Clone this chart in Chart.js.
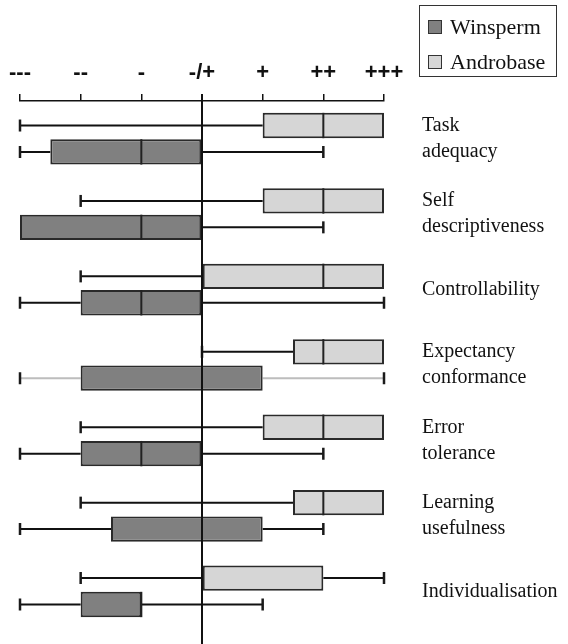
<!DOCTYPE html>
<html>
<head>
<meta charset="utf-8">
<script src="https://cdn.jsdelivr.net/npm/chart.js@4.4.0/dist/chart.umd.min.js"></script>
<style>
  body { margin: 0; background: #fff; }
  #wrap { position: relative; width: 568px; height: 644px; }
  #legend { position: absolute; left: 419px; top: 5px; width: 136px; height: 70px;
            border: 1px solid #333; font: 22px "Liberation Serif", serif; color: #111; }
  #legend div { position: absolute; left: 8px; display: flex; align-items: center; height: 26px; }
  #legend span { display: inline-block; width: 12px; height: 12px; border: 1px solid #333; margin-right: 8px; }
</style>
</head>
<body>
<div id="wrap">
  <canvas id="chart"></canvas>
  <div id="legend"></div>
</div>
<script>
const categories = [['Task', 'adequacy'], ['Self', 'descriptiveness'], ['Controllability'],
  ['Expectancy', 'conformance'], ['Error', 'tolerance'], ['Learning', 'usefulness'], ['Individualisation']];
const tickLabels = ['---', '--', '-', '-/+', '+', '++', '+++'];

// [min, q1, median, q3, max] per category
const androbase = [
  [-3, 1, 2, 3, 3],
  [-2, 1, 2, 3, 3],
  [-2, 0, 2, 3, 3],
  [0, 1.5, 2, 3, 3],
  [-2, 1, 2, 3, 3],
  [-2, 1.5, 2, 3, 3],
  [-2, 0, 0, 2, 3]
];
const winsperm = [
  [-3, -2.5, -1, 0, 2],
  [-3, -3, -1, 0, 2],
  [-3, -2, -1, 0, 3],
  [-3, -2, 0, 1, 3],
  [-3, -2, -1, 0, 2],
  [-3, -1.5, 0, 1, 2],
  [-3, -2, -1, -1, 1]
];

// whiskers, caps, medians and the centre line drawn around the floating bars
const boxParts = {
  id: 'boxParts',
  beforeDatasetsDraw(chart) {
    const {ctx, scales: {x}} = chart;
    chart.data.datasets.forEach((ds, di) => {
      chart.getDatasetMeta(di).data.forEach((bar, i) => {
        const [lo, q1, , q3, hi] = ds.stats[i];
        const y = bar.y;
        ctx.save();
        ctx.lineWidth = 2;
        ctx.strokeStyle = ds.whiskerColor[i];
        ctx.beginPath();
        if (lo < q1) { ctx.moveTo(x.getPixelForValue(lo), y); ctx.lineTo(x.getPixelForValue(q1), y); }
        if (hi > q3) { ctx.moveTo(x.getPixelForValue(q3), y); ctx.lineTo(x.getPixelForValue(hi), y); }
        ctx.stroke();
        ctx.strokeStyle = '#1a1a1a';
        ctx.lineWidth = 2.5;
        ctx.beginPath();
        if (lo < q1) { const p = x.getPixelForValue(lo); ctx.moveTo(p, y - 6); ctx.lineTo(p, y + 6); }
        if (hi > q3) { const p = x.getPixelForValue(hi); ctx.moveTo(p, y - 6); ctx.lineTo(p, y + 6); }
        ctx.stroke();
        ctx.restore();
      });
    });
  },
  afterDatasetsDraw(chart) {
    const {ctx, chartArea, scales: {x}} = chart;
    ctx.save();
    ctx.strokeStyle = '#222';
    ctx.lineWidth = 2;
    chart.data.datasets.forEach((ds, di) => {
      chart.getDatasetMeta(di).data.forEach((bar, i) => {
        const p = x.getPixelForValue(ds.stats[i][2]);
        ctx.beginPath();
        ctx.moveTo(p, bar.y - bar.height / 2);
        ctx.lineTo(p, bar.y + bar.height / 2);
        ctx.stroke();
      });
    });
    const x0 = x.getPixelForValue(0);
    ctx.strokeStyle = '#111';
    ctx.beginPath();
    ctx.moveTo(x0, chartArea.top - 7);
    ctx.lineTo(x0, chart.height);
    ctx.stroke();
    ctx.restore();
  }
};

const chart = new Chart(document.getElementById('chart'), {
  type: 'bar',
  data: {
    labels: categories,
    datasets: [
      {label: 'Androbase', stats: androbase, data: androbase.map(s => [s[1], s[3]]),
       backgroundColor: '#d6d6d6', whiskerColor: androbase.map(() => '#111')},
      {label: 'Winsperm', stats: winsperm, data: winsperm.map(s => [s[1], s[3]]),
       backgroundColor: '#808080', whiskerColor: winsperm.map((s, i) => i === 3 ? '#bdbdbd' : '#111')}
    ].map(ds => Object.assign(ds, {borderColor: '#2a2a2a', borderWidth: 2, borderSkipped: false,
      categoryPercentage: 0.7, barPercentage: 0.96}))
  },
  options: {
    indexAxis: 'y',
    responsive: true,
    maintainAspectRatio: false,
    animation: false,
    layout: {padding: {top: 59.6, left: 20, right: 0, bottom: 15}},
    plugins: {legend: {display: false}, tooltip: {enabled: false}},
    scales: {
      x: {
        position: 'top', min: -3, max: 3,
        ticks: {stepSize: 1, padding: 8, color: '#111', maxRotation: 0, autoSkip: false,
          font: {family: '"Liberation Sans", Arial', size: 22, weight: 'bold'},
          callback: (v, i) => tickLabels[i]},
        grid: {drawOnChartArea: false, drawTicks: true, tickLength: 7, color: '#111', lineWidth: 1.5},
        border: {color: '#111', width: 1.5},
        afterFit(s) { s.height = 41.4; s.paddingTop = 0; s.paddingBottom = 0; }
      },
      y: {
        position: 'right',
        grid: {display: false, drawTicks: false},
        border: {display: false},
        ticks: {padding: 38, color: '#111', crossAlign: 'near',
          font: {family: '"Liberation Serif", serif', size: 20, lineHeight: 1.3}},
        afterFit(s) { s.width = 184; s.paddingTop = 0; s.paddingBottom = 0; }
      }
    }
  },
  plugins: [boxParts]
});

// legend box, Winsperm listed first
const legend = document.getElementById('legend');
chart.data.datasets.slice().reverse().forEach((ds, k) => {
  const row = document.createElement('div');
  row.style.top = (8 + k * 35) + 'px';
  row.innerHTML = '<span style="background:' + ds.backgroundColor + '"></span>' + ds.label;
  legend.appendChild(row);
});
</script>
</body>
</html>
